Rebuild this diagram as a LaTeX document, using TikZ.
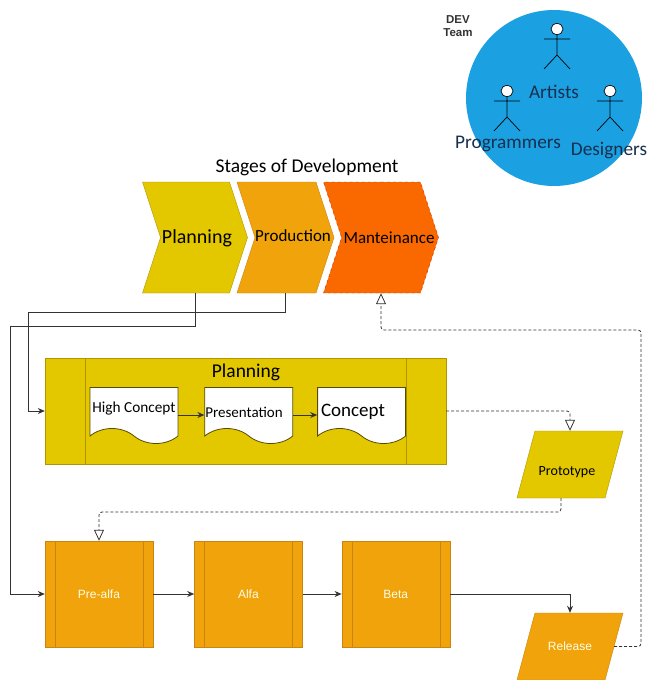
\documentclass[tikz,border=0pt]{standalone}
\usepackage{fontspec}
\setmainfont{Carlito}
\newfontfamily\boxfont{Liberation Sans}
\usetikzlibrary{arrows, arrows.meta, positioning, calc, shapes.geometric, shapes.symbols}
\definecolor{teamblue}{HTML}{1BA1E2}
\definecolor{teamtext}{HTML}{16304F}
\definecolor{planyellow}{HTML}{E3C800}
\definecolor{planline}{HTML}{B09500}
\definecolor{prodorange}{HTML}{F0A30A}
\definecolor{prodline}{HTML}{C98510}
\definecolor{mantorange}{HTML}{FA6800}
\definecolor{mantline}{HTML}{C73500}
\definecolor{connline}{HTML}{333333}
\tikzset{
	stage/.style={signal, signal to=east, signal from=west, signal pointer angle=144, inner sep=0pt, minimum height=111pt},
	framed/.style n args={4}{rectangle, draw=#2, fill=#1, inner sep=0pt, minimum width=#3, minimum height=106pt,
		path picture={
			\draw[#2] ([xshift=#4]path picture bounding box.north west) -- ([xshift=#4]path picture bounding box.south west);
			\draw[#2] ([xshift=-#4]path picture bounding box.north east) -- ([xshift=-#4]path picture bounding box.south east);
		}},
	steppaper/.style={tape, tape bend top=none, tape bend bottom=out and in, tape bend height=15pt, draw=planline!50!black, fill=white, thick, inner sep=0pt, minimum width=88pt, minimum height=56pt},
	slanted/.style={trapezium, trapezium left angle=75, trapezium right angle=105, trapezium stretches body=true, text height=10pt, text depth=3pt, inner xsep=0pt, inner ysep=27pt, minimum width=106pt},
	conn/.style={-{Stealth[length=7pt, width=6pt]}, line width=0.9pt, connline},
	dotconn/.style={-{Triangle[open, length=11pt, width=10pt]}, densely dashed, connline, rounded corners=3pt, line width=0.8pt},
	whitetext/.style={text=white!90!yellow, font=\boxfont\fontsize{12}{14}\selectfont},
	teamtag/.style={text=teamtext, font=\fontsize{19.3}{21}\selectfont},
	actor/.pic={
		\draw[black, line width=0.7pt, fill=white] (0,0) ellipse (6 and 5.5);
		\draw[black, line width=0.7pt] (-13,10) -- (13,10) (0,5.5) -- (0,26) (-13,40) -- (0,26) -- (13,40);
	}
}
\begin{document}
\begin{tikzpicture}[x=1pt, y=-1pt]
		\useasboundingbox[fill=white] (0,0) rectangle (647,680);
		% team circle
		\node[circle, fill=teamblue, inner sep=0pt, minimum size=176pt] (team) at (554,98) {};
		\node[font=\boxfont\bfseries\fontsize{11.5}{13}\selectfont, align=center, text=black!80] (devteam) at (458,26) {DEV\\Team};
		\pic at (557,29) {actor};
		\pic at (507,91) {actor};
		\pic at (610,91) {actor};
		\node[teamtag] (artists) at (554,92) {Artists};
		\node[teamtag] (programmers) at (508,144) {Programmers};
		\node[teamtag] (designers) at (609,151) {Designers};
		% stages
		\node[font=\fontsize{19.5}{21}\selectfont] (title) at (307,167) {Stages of Development};
		\node[stage, fill=planyellow, draw=planline, minimum width=105pt] (planstage) at (195,237.5) {};
		\node[stage, fill=prodorange, draw=prodline, minimum width=97pt] (prodstage) at (285.5,237.5) {};
		\node[stage, fill=mantorange, draw=mantline, dashed, minimum width=115pt] (mantstage) at (381,237.5) {};
		\node[font=\fontsize{20}{22}\selectfont] (planname) at (197,238) {Planning};
		\node[font=\fontsize{17}{19}\selectfont] (prodname) at (293,236) {Production};
		\node[font=\fontsize{17}{19}\selectfont] (mantname) at (389,238) {Manteinance};
		% planning block
		\node[framed={planyellow}{planline}{401pt}{40pt}] (planblock) at (245.5,411) {};
		\node[font=\fontsize{19.5}{21}\selectfont] (plantitle) at (246,372) {Planning};
		\node[steppaper] (highconcept) at (134,408) {};
		\node[steppaper, right=26pt of highconcept] (presentation) {};
		\node[steppaper, right=24pt of presentation] (concept) {};
		\node[font=\fontsize{15.3}{17}\selectfont] (highlabel) at (134,408) {High Concept};
		\node[font=\fontsize{15}{17}\selectfont] (preslabel) at (244,412) {Presentation};
		\node[font=\fontsize{19}{21}\selectfont] (conclabel) at (353,412) {Concept};
		\node[slanted, fill=planyellow, draw=planline] (prototype) at (570,464.5) {};
		\node[font=\fontsize{14}{16}\selectfont] (protoname) at (567,472) {Prototype};
		% production row
		\node[framed={prodorange}{prodline}{108pt}{10pt}, whitetext] (prealfa) at (99,594) {Pre-alfa};
		\node[framed={prodorange}{prodline}{108pt}{10pt}, whitetext, right=41pt of prealfa] (alfa) {Alfa};
		\node[framed={prodorange}{prodline}{108pt}{10pt}, whitetext, right=39pt of alfa] (beta) {Beta};
		\node[slanted, fill=prodorange, draw=prodline, whitetext] (release) at (570,646.5) {Release};
		\coordinate (leftfar) at (10,326.5);
		\coordinate (leftnear) at (28,312.5);
		\coordinate (planexit) at (570,411);
		\coordinate (protoexit) at (99,512);
		\coordinate (rightfar) at (641,330);
		% connectors
		\draw[conn] (planstage.south) |- (leftfar) |- (prealfa.west);
		\draw[conn] (prodstage.south) |- (leftnear) |- (planblock.west);
		\draw[conn] ([yshift=-7pt]highconcept.east) -- ([yshift=-7pt]presentation.west);
		\draw[conn] ([yshift=-7pt]presentation.east) -- ([yshift=-7pt]concept.west);
		\draw[conn] (prealfa) -- (alfa);
		\draw[conn] (alfa) -- (beta);
		\draw[conn] (beta) -| (release.north);
		\draw[dotconn] (planblock.east) -- (planexit) -- (prototype.north);
		\draw[dotconn] ([xshift=-9pt]prototype.south) |- (protoexit) -- (prealfa.north);
		\draw[dotconn] (release.east) -| (rightfar) -| (mantstage.south);
		\end{tikzpicture}
\end{document}
